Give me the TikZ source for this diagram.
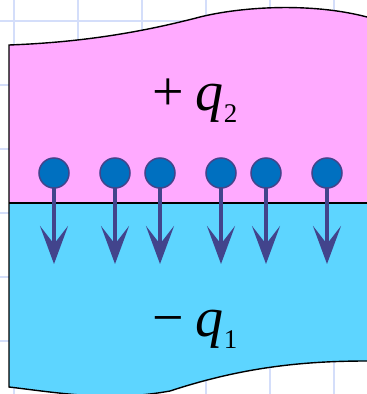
\documentclass[tikz,border=0pt]{standalone}
\usepackage{fontspec}
\setmainfont{Liberation Serif}
\usetikzlibrary{arrows.meta}
\definecolor{gridc}{RGB}{212,222,250}
\definecolor{pinkc}{RGB}{255,170,255}
\definecolor{cyanc}{RGB}{93,213,255}
\definecolor{chargef}{RGB}{0,112,192}
\definecolor{arrowc}{RGB}{66,68,140}
\tikzset{
  gridline/.style={draw=gridc, line width=2pt},
  plate/.style={draw=black, line width=1.4pt},
  charge/.style={circle, fill=chargef, draw=arrowc, line width=1.5pt, minimum size=30pt, inner sep=0pt},
  field/.style={draw=arrowc, line width=4pt, -{Stealth[length=38pt, width=28pt, inset=18pt]}, shorten <=-2pt},
  lab/.style={inner sep=0pt, font=\fontsize{56}{56}\selectfont}
}
\begin{document}
\begin{tikzpicture}[x=1pt, y=-1pt]
\useasboundingbox (0,0) rectangle (367,394);
\fill[white] (0,0) rectangle (367,394);
% grid
\foreach \gx in {14,78,142,206,270,334} \draw[gridline] (\gx,0) -- (\gx,394);
\foreach \gy in {21,85,149,213,277,341} \draw[gridline] (0,\gy) -- (367,\gy);
% pink plate
\fill[pinkc] (9,45) .. controls (90,42) and (150,30) .. (200,17) .. controls (240,7) and (310,2) .. (367,17) -- (367,203) -- (9,203) -- cycle;
% cyan plate
\fill[cyanc] (9,203) -- (367,203) -- (367,361) .. controls (300,361) and (240,368) .. (170,391) .. controls (110,402) and (60,393) .. (9,387) -- cycle;
% outlines
\draw[plate] (367,17) .. controls (310,2) and (240,7) .. (200,17) .. controls (150,30) and (90,42) .. (9,45) -- (9,387) .. controls (60,393) and (110,402) .. (170,391) .. controls (240,368) and (300,361) .. (367,361);
\draw[plate] (9,203) -- (367,203);
% charges and field arrows
\foreach \n/\cx in {a/54,b/115,c/160,d/221,e/266,f/327} {
  \coordinate (t\n) at (\cx,264);
  \draw[field] (\cx,173) -- (t\n);
  \node[charge] (c\n) at (\cx,173) {};
}
% labels
\node[lab, anchor=base west] (qtwo) at (152,110) {+\hspace{12pt}\textit{q}\raisebox{-12pt}{\fontsize{27}{27}\selectfont 2}};
\node[lab, anchor=base west] (qone) at (152,336) {−\hspace{12pt}\textit{q}\raisebox{-12pt}{\fontsize{27}{27}\selectfont 1}};
\end{tikzpicture}
\end{document}
